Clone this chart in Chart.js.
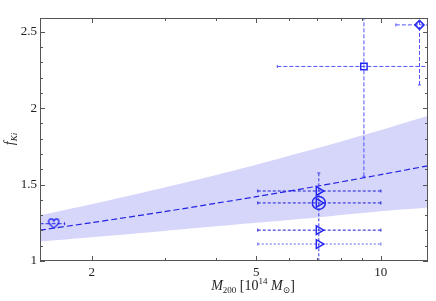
<!DOCTYPE html>
<html>
<head>
<meta charset="utf-8">
<script src="https://cdn.jsdelivr.net/npm/chart.js@4.4.0/dist/chart.umd.min.js"></script>
<style>
  html, body { margin: 0; padding: 0; background: #fff; }
  #wrap { width: 436px; height: 301px; }
</style>
</head>
<body>
<div id="wrap"><canvas id="chart"></canvas></div>
<script>
// axis ticks
const xTicks = [2, 5, 10];
const xMinor = [3, 4, 6, 7, 8, 9];
const yTicks = [1, 1.5, 2, 2.5];
const yMinor = [1.1, 1.2, 1.3, 1.4, 1.6, 1.7, 1.8, 1.9, 2.1, 2.2, 2.3, 2.4];

// fit curve and its band
const fitMass = [1.5, 2, 3, 4, 5, 7, 10, 13];
const fitLine = [1.202, 1.251, 1.323, 1.378, 1.421, 1.489, 1.565, 1.623];
const bandHigh = [1.30, 1.372, 1.481, 1.563, 1.630, 1.737, 1.857, 1.951];
const bandLow = [1.128, 1.156, 1.197, 1.227, 1.250, 1.285, 1.325, 1.350];

// clusters
const heartPt = [{ x: 1.62, y: 1.248 }];
const squarePt = [{ x: 9.1, y: 2.273 }];
const diamondPt = [{ x: 12.4, y: 2.545 }];
const circlePt = [{ x: 7.08, y: 1.38 }];
const triMass = [7.08, 7.08, 7.08, 7.08];
const triF = [1.458, 1.38, 1.202, 1.111];

// error bars: [mass, f, massLo, massHi, fLo, fHi, colour, dash]
const errBars = [
  [1.62, 1.244, 1.4, 1.72, null, null, '#2a2ae8', [4, 2]],
  [9.1, 2.273, 5.62, 14, 1.554, 2.8, '#5252ff', [4, 2]],
  [12.4, 2.545, 10.87, 14, 2.152, 2.7, '#5252ff', [4, 2]],
  [7.08, 1.38, null, null, 0.9, 1.576, '#3535e8', [3, 2]],
  [7.08, 1.458, 5.04, 10, null, null, '#1c1cd8', [3, 2]],
  [7.08, 1.38, 5.04, 10, null, null, '#1c1cd8', [3, 2]],
  [7.08, 1.202, 5.04, 10, null, null, '#1c1cd8', [3, 2]],
  [7.08, 1.111, 5.04, 10, null, null, '#6060e8', [2, 2]]
];

const blue = '#2626f2';
const serif = '"Liberation Serif", "DejaVu Serif", serif';

// heart marker
const heart = document.createElement('canvas');
heart.width = 13; heart.height = 12;
(function () {
  const h = heart.getContext('2d');
  h.strokeStyle = blue; h.lineWidth = 1.4;
  h.beginPath();
  h.moveTo(6.5, 11);
  h.bezierCurveTo(3, 8, 1, 6, 1.4, 3.8);
  h.bezierCurveTo(1.9, 1.2, 5.5, 0.8, 6.5, 3.8);
  h.bezierCurveTo(7.5, 0.8, 11.1, 1.2, 11.6, 3.8);
  h.bezierCurveTo(12, 6, 10, 8, 6.5, 11);
  h.stroke();
})();

const xy = (xs, ys) => xs.map((x, i) => ({ x, y: ys[i] }));

const FIT_INDEX = 2;

const errorBarPlugin = {
  id: 'errorBars',
  afterDatasetDraw(chart, args) {
    if (args.index !== FIT_INDEX) return;
    const { ctx, chartArea: a, scales: { x, y } } = chart;
    ctx.save();
    ctx.beginPath();
    ctx.rect(a.left, a.top, a.right - a.left, a.bottom - a.top);
    ctx.clip();
    ctx.lineWidth = 1;
    errBars.forEach(([m, f, mLo, mHi, fLo, fHi, col, dash]) => {
      ctx.strokeStyle = col;
      const px = x.getPixelForValue(m), py = y.getPixelForValue(f);
      ctx.setLineDash(dash);
      ctx.beginPath();
      if (mLo != null) {
        ctx.moveTo(x.getPixelForValue(mLo), py);
        ctx.lineTo(x.getPixelForValue(mHi), py);
      }
      if (fLo != null) {
        ctx.moveTo(px, y.getPixelForValue(fLo));
        ctx.lineTo(px, y.getPixelForValue(fHi));
      }
      ctx.stroke();
      ctx.setLineDash([]);
      ctx.beginPath();
      if (mLo != null) {
        [mLo, mHi].forEach(v => {
          const p = x.getPixelForValue(v);
          ctx.moveTo(p, py - 1.5); ctx.lineTo(p, py + 1.5);
        });
      }
      if (fLo != null) {
        [fLo, fHi].forEach(v => {
          const p = y.getPixelForValue(v);
          ctx.moveTo(px - 1.5, p); ctx.lineTo(px + 1.5, p);
        });
      }
      ctx.stroke();
    });
    ctx.restore();
  }
};

function drawRuns(ctx, runs, x, y) {
  let cx = x;
  runs.forEach(r => {
    ctx.font = r.font;
    ctx.fillText(r.t, cx, y + (r.dy || 0));
    cx += ctx.measureText(r.t).width;
  });
}

function runsWidth(ctx, runs) {
  let w = 0;
  runs.forEach(r => { ctx.font = r.font; w += ctx.measureText(r.t).width; });
  return w;
}

const framePlugin = {
  id: 'frame',
  afterDraw(chart) {
    const { ctx, chartArea: a, scales: { x, y } } = chart;
    ctx.save();
    ctx.strokeStyle = '#555';
    ctx.lineWidth = 1;
    ctx.strokeRect(a.left + 0.5, a.top + 0.5, a.right - a.left - 1, a.bottom - a.top - 1);
    ctx.beginPath();
    const xt = (v, len) => {
      const p = Math.round(x.getPixelForValue(v)) + 0.5;
      ctx.moveTo(p, a.bottom); ctx.lineTo(p, a.bottom - len);
      ctx.moveTo(p, a.top); ctx.lineTo(p, a.top + len);
    };
    const yt = (v, len) => {
      const p = Math.round(y.getPixelForValue(v)) + 0.5;
      ctx.moveTo(a.left, p); ctx.lineTo(a.left + len, p);
      ctx.moveTo(a.right, p); ctx.lineTo(a.right - len, p);
    };
    xTicks.forEach(v => xt(v, 5));
    xMinor.forEach(v => xt(v, 3));
    yTicks.forEach(v => yt(v, 5));
    yMinor.forEach(v => yt(v, 3));
    ctx.stroke();

    // axis titles
    ctx.fillStyle = '#222';
    ctx.textBaseline = 'alphabetic';
    const it = 'italic 14px ' + serif, rm = '14px ' + serif, sm = '9px ' + serif, si = 'italic 9px ' + serif;
    const xRuns = [
      { t: 'M', font: it }, { t: '200', font: sm, dy: 3 },
      { t: ' [10', font: rm }, { t: '14', font: sm, dy: -6 },
      { t: ' M', font: it }, { t: '\u2299', font: sm, dy: 3 }, { t: ']', font: rm }
    ];
    const xw = runsWidth(ctx, xRuns);
    drawRuns(ctx, xRuns, 253 - xw / 2, 290);

    const yRuns = [{ t: 'f', font: it }, { t: 'Ki', font: si, dy: 3 }];
    const yw = runsWidth(ctx, yRuns);
    ctx.translate(14, 139);
    ctx.rotate(-Math.PI / 2);
    drawRuns(ctx, yRuns, -yw / 2, 0);
    ctx.restore();
  }
};

const hollow = { borderColor: blue, backgroundColor: 'rgba(0,0,0,0)', borderWidth: 1.5 };

new Chart(document.getElementById('chart'), {
  type: 'scatter',
  data: {
    datasets: [
      { data: xy(fitMass, bandHigh), showLine: true, pointRadius: 0, borderWidth: 0, order: 20,
        borderColor: 'rgba(0,0,0,0)', backgroundColor: '#d6d6fa', fill: '+1' },
      { data: xy(fitMass, bandLow), showLine: true, pointRadius: 0, borderWidth: 0, order: 19,
        borderColor: 'rgba(0,0,0,0)', fill: false },
      { data: xy(fitMass, fitLine), showLine: true, pointRadius: 0, borderWidth: 1.2, order: 10,
        borderColor: '#2424e0', borderDash: [6, 3], fill: false },
      { data: heartPt, pointStyle: heart, pointRadius: 7, order: 1 },
      Object.assign({ data: squarePt, pointStyle: 'rect', pointRadius: 4.5, order: 1 }, hollow),
      Object.assign({ data: diamondPt, pointStyle: 'rectRot', pointRadius: 4.5, order: 1 }, hollow),
      Object.assign({ data: circlePt, pointStyle: 'circle', pointRadius: 6.5, order: 1 }, hollow),
      Object.assign({ data: xy(triMass, triF), pointStyle: 'triangle', rotation: 90,
        pointRadius: 5, order: 1 }, hollow)
    ]
  },
  options: {
    responsive: true,
    maintainAspectRatio: false,
    animation: false,
    layout: { padding: { top: 18, right: 3, left: 0, bottom: 0 } },
    plugins: { legend: { display: false }, tooltip: { enabled: false } },
    elements: { line: { tension: 0.3 } },
    scales: {
      x: {
        type: 'logarithmic', min: 1.5, max: 13,
        grid: { display: false, drawTicks: false },
        border: { display: false },
        afterBuildTicks: s => { s.ticks = xTicks.map(v => ({ value: v })); },
        afterFit: s => { s.height = 40; },
        ticks: { color: '#222', font: { family: serif, size: 13 }, padding: 4,
          autoSkip: false, maxRotation: 0, callback: v => String(v) }
      },
      y: {
        type: 'linear', min: 1, max: 2.59,
        grid: { display: false, drawTicks: false },
        border: { display: false },
        afterBuildTicks: s => { s.ticks = yTicks.map(v => ({ value: v })); },
        afterFit: s => { s.width = 40; },
        ticks: { color: '#222', font: { family: serif, size: 13 }, padding: 3,
          callback: v => String(v) }
      }
    }
  },
  plugins: [errorBarPlugin, framePlugin]
});
</script>
</body>
</html>
